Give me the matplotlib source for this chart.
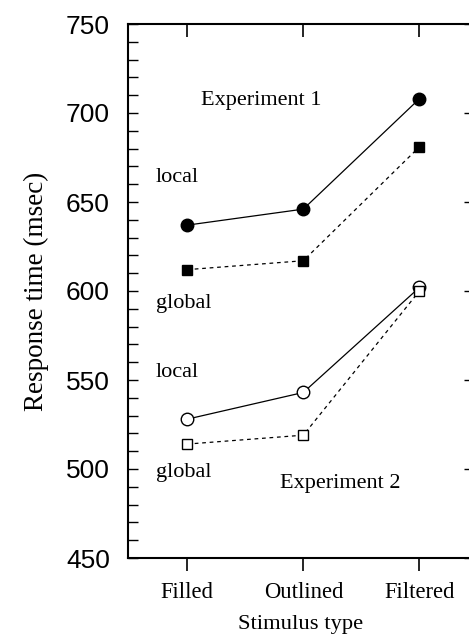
import matplotlib
matplotlib.use("Agg")
import matplotlib.pyplot as plt

categories = ["Filled", "Outlined", "Filtered"]
exp1_local = [637, 646, 708]
exp1_global = [612, 617, 681]
exp2_local = [528, 543, 602]
exp2_global = [514, 519, 600]

serif = ["Liberation Serif", "DejaVu Serif"]
sans = ["Liberation Sans", "DejaVu Sans"]

fig = plt.figure(figsize=(4.69, 6.36), dpi=100)
W, H = 469, 636
ax = fig.add_axes([128 / W, 1 - 558 / H, (474 - 128) / W, (558 - 24) / H])

x = list(range(len(categories)))
ax.plot(x, exp1_local, "-", color="black", lw=0.9, marker="o", ms=9,
        mfc="black", mec="black")
ax.plot(x, exp1_global, "--", color="black", lw=0.9, marker="s", ms=7.5,
        mfc="black", mec="black", dashes=(3, 3))
ax.plot(x, exp2_local, "-", color="black", lw=0.9, marker="o", ms=9,
        mfc="white", mec="black", mew=1.0)
ax.plot(x, exp2_global, "--", color="black", lw=0.9, marker="s", ms=7.5,
        mfc="white", mec="black", mew=1.0, dashes=(3, 3))

ax.set_xlim(-0.51, 2.47)
ax.set_ylim(450, 750)

ax.set_yticks([450, 500, 550, 600, 650, 700, 750])
ax.set_yticks(range(450, 751, 10), minor=True)
ax.set_xticks(x)
ax.set_xticklabels(categories, fontfamily=serif, fontsize=16.3)
for lab in ax.get_yticklabels():
    lab.set_fontfamily(sans)
    lab.set_fontsize(19)

ax.tick_params(axis="y", which="both", direction="in", length=7, width=1.0,
               left=True, right=True, pad=13)
ax.tick_params(axis="x", which="major", direction="out", length=9, width=1.2,
               top=False, bottom=True, pad=8)
ax.tick_params(axis="x", which="minor", bottom=False, top=False)
ax.tick_params(axis="y", which="minor", right=False)

# top ticks (inward) via secondary axis
top = ax.secondary_xaxis("top")
top.set_xticks(x)
top.set_xticklabels([])
top.tick_params(direction="in", length=9, width=1.2)
top.spines["top"].set_visible(False)

for s in ["left", "bottom", "top", "right"]:
    ax.spines[s].set_linewidth(1.5)

ax.set_ylabel("Response time (msec)", fontfamily=serif, fontsize=19.5, labelpad=12)
ax.set_xlabel("Stimulus type", fontfamily=serif, fontsize=16.2, labelpad=9)

ax.text(0.64, 707, "Experiment 1", fontfamily=serif, fontsize=16,
        ha="center", va="center")
ax.text(1.32, 492, "Experiment 2", fontfamily=serif, fontsize=16,
        ha="center", va="center")
ax.text(-0.27, 664, "local", fontfamily=serif, fontsize=16, ha="left", va="center")
ax.text(-0.27, 593, "global", fontfamily=serif, fontsize=16, ha="left", va="center")
ax.text(-0.27, 554, "local", fontfamily=serif, fontsize=16, ha="left", va="center")
ax.text(-0.27, 498, "global", fontfamily=serif, fontsize=16, ha="left", va="center")

fig.savefig("out.png", dpi=100)
